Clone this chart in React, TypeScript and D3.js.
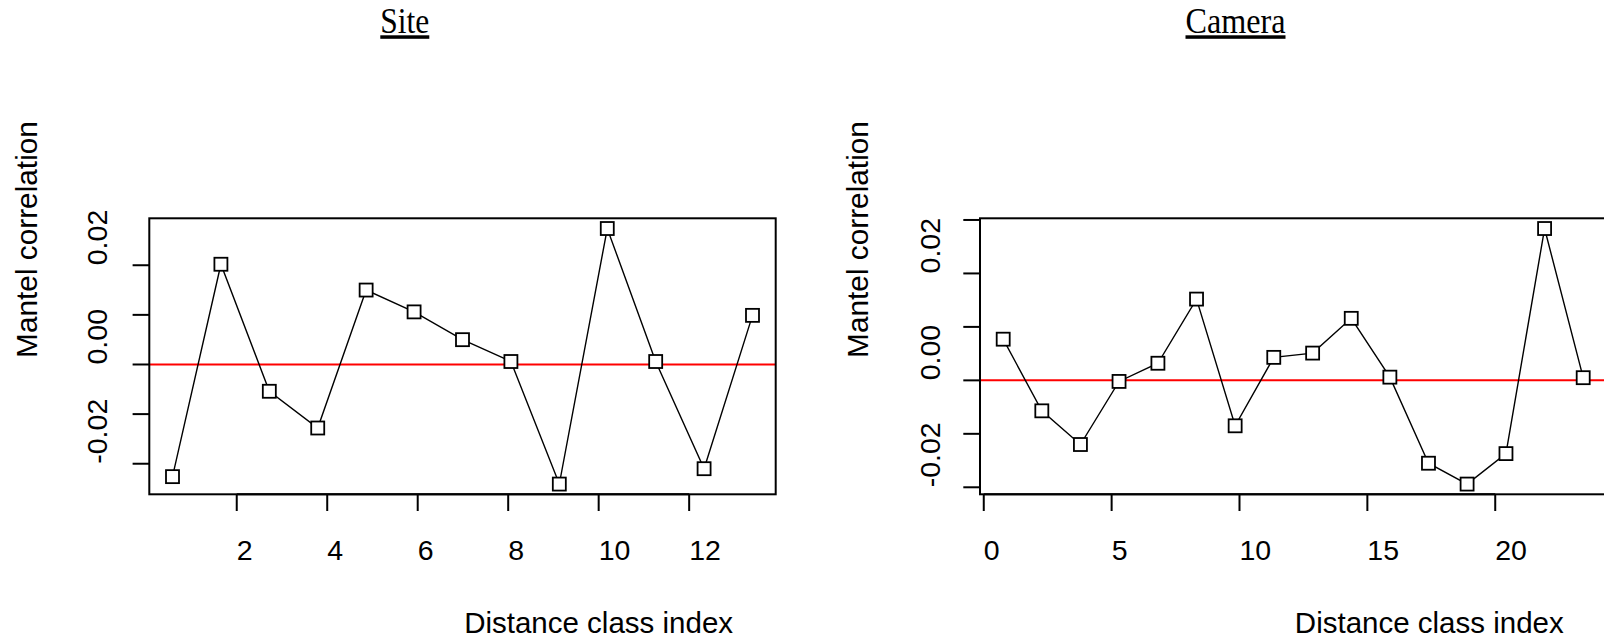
import React, { useEffect } from 'react';
import * as d3 from 'd3';

// ---------- data ----------
const siteIndex = [0.58, 1.65, 2.72, 3.79, 4.86, 5.92, 6.99, 8.06, 9.13, 10.19, 11.26, 12.33, 13.40];
const siteCorr = [-0.0226, 0.0202, -0.0054, -0.0128, 0.0150, 0.0106, 0.0050, 0.0006, -0.0241, 0.0274, 0.0006, -0.0210, 0.0099];
const siteXTicks = [2, 4, 6, 8, 10, 12];
const siteYTicks = [-0.02, -0.01, 0, 0.01, 0.02];
const siteYLabelled = [-0.02, 0, 0.02];

const cameraIndex = [0.76, 2.27, 3.78, 5.29, 6.81, 8.32, 9.83, 11.34, 12.86, 14.37, 15.88, 17.39, 18.90, 20.42, 21.93, 23.44];
const cameraCorr = [0.0077, -0.0057, -0.0120, -0.0002, 0.0032, 0.0152, -0.0085, 0.0043, 0.0051, 0.0116, 0.0006, -0.0155, -0.0194, -0.0137, 0.0284, 0.0005];
const cameraXTicks = [0, 5, 10, 15, 20];
const cameraYTicks = [-0.02, -0.01, 0, 0.01, 0.02, 0.03];
const cameraYLabelled = [-0.02, 0, 0.02];

const titles = ['Site', 'Camera'];
const xTitle = 'Distance class index';
const yTitle = 'Mantel correlation';

// ---------- layout ----------
const W = 1604;
const H = 639;
const SANS = '"Liberation Sans", Arial, Helvetica, sans-serif';
const SERIF = '"Liberation Serif", "Times New Roman", serif';

function padded(v: number[]): [number, number] {
  const [a, b] = d3.extent(v) as [number, number];
  const r = b - a;
  return [a - 0.04 * r, b + 0.04 * r];
}

function fmt(v: number) {
  const r = Math.round(v * 100) / 100;
  return (Object.is(r, -0) ? 0 : r).toFixed(2);
}

type PanelProps = {
  title: string;
  titleWidth: number;
  xs: number[];
  ys: number[];
  xTicks: number[];
  yTicks: number[];
  yLabelled: number[];
  left: number;
  right: number;
  top: number;
  bottom: number;
  yLabX: number;
};

function Panel(p: PanelProps) {
  const x = d3.scaleLinear().domain(padded(p.xs)).range([p.left, p.right]);
  const y = d3.scaleLinear().domain(padded(p.ys)).range([p.bottom, p.top]);
  const line = d3
    .line<number>()
    .x((_, i) => x(p.xs[i]))
    .y((d) => y(d));
  const tickLen = 16.7;
  const sq = 13;
  return (
    <g>
      <text
        x={p.left + 255.5}
        y={33.3}
        textAnchor="middle"
        fontFamily={SERIF}
        fontSize={35}
        textLength={p.titleWidth}
        lengthAdjust="spacingAndGlyphs"
        textDecoration="underline"
        fill="#000"
      >
        {p.title}
      </text>
      {/* red zero line */}
      <line x1={p.left} x2={p.right} y1={y(0)} y2={y(0)} stroke="#ff0000" strokeWidth={2} />
      {/* series */}
      <path d={line(p.ys) || ''} fill="none" stroke="#000" strokeWidth={1.4} />
      {p.ys.map((d, i) => (
        <rect
          key={i}
          x={x(p.xs[i]) - sq / 2}
          y={y(d) - sq / 2}
          width={sq}
          height={sq}
          fill="#fff"
          stroke="#000"
          strokeWidth={1.8}
        />
      ))}
      {/* box */}
      <rect
        x={p.left}
        y={p.top}
        width={p.right - p.left}
        height={p.bottom - p.top}
        fill="none"
        stroke="#000"
        strokeWidth={2}
      />
      {/* x axis */}
      <line
        x1={x(p.xTicks[0])}
        x2={x(p.xTicks[p.xTicks.length - 1])}
        y1={p.bottom}
        y2={p.bottom}
        stroke="#000"
        strokeWidth={2}
      />
      {p.xTicks.map((t) => (
        <g key={'x' + t}>
          <line x1={x(t)} x2={x(t)} y1={p.bottom} y2={p.bottom + tickLen} stroke="#000" strokeWidth={2} />
          <text x={x(t)} y={560} textAnchor="start" fontFamily={SANS} fontSize={28.5} fill="#000">
            {String(t)}
          </text>
        </g>
      ))}
      {/* y axis */}
      {p.yTicks.map((t) => (
        <line
          key={'y' + t}
          x1={p.left - tickLen}
          x2={p.left}
          y1={y(t)}
          y2={y(t)}
          stroke="#000"
          strokeWidth={2}
        />
      ))}
      {p.yLabelled.map((t) => (
        <text
          key={'yl' + t}
          transform={`translate(${p.yLabX},${y(t)}) rotate(-90)`}
          textAnchor="start"
          fontFamily={SANS}
          fontSize={28.5}
          fill="#000"
        >
          {fmt(t)}
        </text>
      ))}
      {/* axis titles */}
      <text
        x={p.left + 449.3}
        y={633.3}
        textAnchor="middle"
        fontFamily={SANS}
        fontSize={29.5}
        fill="#000"
      >
        {xTitle}
      </text>
      <text
        transform={`translate(${p.left - 112},239.5) rotate(-90)`}
        textAnchor="middle"
        fontFamily={SANS}
        fontSize={29.8}
        fill="#000"
      >
        {yTitle}
      </text>
    </g>
  );
}

export default function App() {
  useEffect(() => {
    document.body.style.margin = '0';
  }, []);
  return (
    <svg
      width={W}
      height={H}
      viewBox={`0 0 ${W} ${H}`}
      style={{ position: 'absolute', left: 0, top: 0, display: 'block', background: '#fff' }}
    >
      <rect x={0} y={0} width={W} height={H} fill="#fff" />
      <Panel
        title={titles[0]}
        titleWidth={49}
        xs={siteIndex}
        ys={siteCorr}
        xTicks={siteXTicks}
        yTicks={siteYTicks}
        yLabelled={siteYLabelled}
        left={149.3}
        right={775.7}
        top={218.3}
        bottom={494.3}
        yLabX={106.6}
      />
      <Panel
        title={titles[1]}
        titleWidth={100}
        xs={cameraIndex}
        ys={cameraCorr}
        xTicks={cameraXTicks}
        yTicks={cameraYTicks}
        yLabelled={cameraYLabelled}
        left={980}
        right={1606.4}
        top={218.3}
        bottom={494.3}
        yLabX={940}
      />
    </svg>
  );
}
